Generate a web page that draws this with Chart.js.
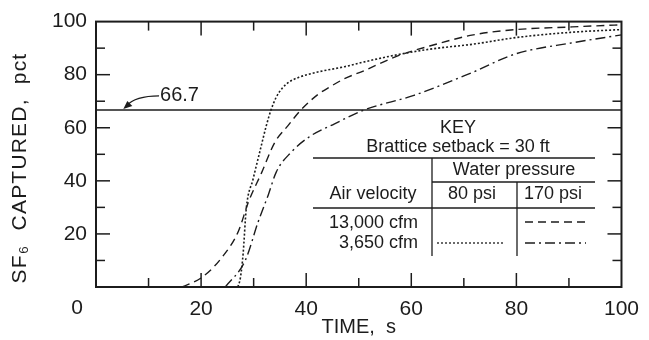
<!DOCTYPE html>
<html>
<head>
<meta charset="utf-8">
<script src="https://cdn.jsdelivr.net/npm/chart.js@4.4.1/dist/chart.umd.min.js"></script>
<style>
  html, body { margin: 0; padding: 0; background: #fff; }
</style>
</head>
<body>
<canvas id="myChart" width="649" height="340"></canvas>
<script>
// 13,000 cfm, 170 psi (dashed)
const fastHighTime = [16.4, 20.2, 23.9, 27.1, 29, 31.5, 34, 36.5, 38.8, 42.2, 44.6, 47.3, 51, 57.3, 63.5, 71.8, 80, 90.6, 100];
const fastHighPct  = [0, 3.7, 11, 21, 32, 43, 54.4, 60.7, 66.3, 72.5, 75.5, 78.5, 81.5, 87, 90.8, 95, 97, 98, 98.8];

// 3,650 cfm, 80 psi (dotted)
const slowLowTime = [27, 27.5, 28, 28.6, 29.9, 31.3, 32.4, 33.3, 34.3, 35.4, 36.8, 38.6, 42.2, 47.3, 51, 57.3, 63.5, 71.8, 80, 90.6, 100];
const slowLowPct  = [0, 3.7, 12.6, 29.6, 40.7, 52, 60.7, 66.7, 71.5, 74.8, 77.3, 79, 81, 83, 84.8, 87.5, 89.6, 91.5, 94, 96, 97];

// 3,650 cfm, 170 psi (dash-dot)
const slowHighTime = [24.6, 28.4, 30.9, 32.8, 34.3, 37.1, 40.9, 45.4, 51, 60.5, 71.8, 79.8, 90.6, 100];
const slowHighPct  = [0, 10, 24.8, 34.8, 43.3, 50.7, 57, 61.5, 66.7, 72.2, 81, 87.8, 92, 95];

const referencePct = 66.7;
const referenceLabel = '66.7';

const keyTitle = 'KEY';
const keySetback = 'Brattice setback = 30 ft';
const keyPressureTitle = 'Water pressure';
const keyPressures = ['80 psi', '170 psi'];
const keyVelocityTitle = 'Air velocity';
const keyVelocities = ['13,000 cfm', '3,650 cfm'];
const yTitle = 'SF\u2086  CAPTURED,  pct';

const ink = '#1c1c1c';
const font = '"Liberation Sans", Arial, sans-serif';

function pts(xs, ys) {
    return xs.map((x, i) => ({ x: x, y: ys[i] }));
}

function line(ctx, x1, y1, x2, y2) {
    ctx.beginPath();
    ctx.moveTo(x1, y1);
    ctx.lineTo(x2, y2);
    ctx.stroke();
}

const dashFast = [8, 5];
const dashDot = [2, 2];
const dashSlowHigh = [10, 4, 2, 4];

const frameAndKey = {
    id: 'frameAndKey',
    afterDraw(chart) {
        const { ctx, chartArea: a, scales: { x, y } } = chart;
        ctx.save();
        ctx.strokeStyle = ink;
        ctx.fillStyle = ink;
        ctx.lineWidth = 2;
        ctx.strokeRect(a.left, a.top, a.right - a.left, a.bottom - a.top);

        // inward ticks on all four sides
        ctx.lineWidth = 1.5;
        for (let v = 10; v < 100; v += 10) {
            const len = v % 20 === 0 ? 14 : 9;
            const px = x.getPixelForValue(v);
            const py = y.getPixelForValue(v);
            line(ctx, px, a.bottom, px, a.bottom - len);
            line(ctx, px, a.top, px, a.top + len);
            line(ctx, a.left, py, a.left + len, py);
            line(ctx, a.right, py, a.right - len, py);
        }

        // lone "0" at the lower left
        ctx.font = '21px ' + font;
        ctx.textAlign = 'center';
        ctx.textBaseline = 'middle';
        ctx.fillText('0', x.getPixelForValue(0) - 19, a.bottom + 21);

        // y axis title, a little below centre as in the original
        ctx.save();
        ctx.translate(20, 168);
        ctx.rotate(-Math.PI / 2);
        ctx.font = '21px ' + font;
        ctx.letterSpacing = '1.2px';
        ctx.fillText(yTitle, 0, 0);
        ctx.restore();

        // 66.7 label with arrow
        const tipX = x.getPixelForValue(5.2), tipY = y.getPixelForValue(referencePct) - 1;
        const labX = x.getPixelForValue(12), labY = y.getPixelForValue(72);
        ctx.font = '20px ' + font;
        ctx.textAlign = 'left';
        ctx.fillText(referenceLabel, labX + 1, labY);
        ctx.lineWidth = 1.2;
        ctx.beginPath();
        ctx.moveTo(labX, labY);
        ctx.quadraticCurveTo(tipX + 12, labY, tipX + 3, tipY - 3);
        ctx.stroke();
        ctx.beginPath();
        ctx.moveTo(tipX, tipY);
        ctx.lineTo(tipX + 9, tipY - 3);
        ctx.lineTo(tipX + 4, tipY - 8);
        ctx.closePath();
        ctx.fill();

        // key table
        ctx.font = '18px ' + font;
        ctx.textAlign = 'center';
        ctx.fillText(keyTitle, 458, 128);
        ctx.fillText(keySetback, 458, 147);
        ctx.fillText(keyPressureTitle, 514, 170);
        ctx.fillText(keyVelocityTitle, 373, 194);
        ctx.fillText(keyPressures[0], 472, 194);
        ctx.fillText(keyPressures[1], 553, 194);
        ctx.textAlign = 'right';
        ctx.fillText(keyVelocities[0], 418, 223);
        ctx.fillText(keyVelocities[1], 418, 243);

        ctx.lineWidth = 1.3;
        line(ctx, 313, 158, 595, 158);
        line(ctx, 432, 182, 595, 182);
        line(ctx, 313, 208, 595, 208);
        line(ctx, 432, 158, 432, 256);
        line(ctx, 517, 182, 517, 256);

        ctx.setLineDash(dashFast);
        line(ctx, 525, 222, 586, 222);
        ctx.setLineDash(dashDot);
        line(ctx, 437, 243, 503, 243);
        ctx.setLineDash(dashSlowHigh);
        line(ctx, 525, 243, 586, 243);
        ctx.restore();
    }
};

const ctx = document.getElementById('myChart');

new Chart(ctx, {
    type: 'scatter',
    data: {
        datasets: [
            {
                label: '66.7',
                data: [{ x: 0, y: referencePct }, { x: 100, y: referencePct }],
                borderColor: ink,
                borderWidth: 1.5
            },
            {
                label: '13,000 cfm, 170 psi',
                data: pts(fastHighTime, fastHighPct),
                borderColor: ink,
                borderWidth: 1.4,
                borderDash: dashFast,
                cubicInterpolationMode: 'monotone'
            },
            {
                label: '3,650 cfm, 80 psi',
                data: pts(slowLowTime, slowLowPct),
                borderColor: ink,
                borderWidth: 1.6,
                borderDash: dashDot,
                cubicInterpolationMode: 'monotone'
            },
            {
                label: '3,650 cfm, 170 psi',
                data: pts(slowHighTime, slowHighPct),
                borderColor: ink,
                borderWidth: 1.4,
                borderDash: dashSlowHigh,
                cubicInterpolationMode: 'monotone'
            }
        ]
    },
    options: {
        responsive: false,
        animation: false,
        showLine: true,
        elements: { point: { radius: 0 } },
        layout: { padding: { left: 0, right: 22, top: 17, bottom: 0 } },
        plugins: {
            legend: { display: false },
            tooltip: { enabled: false }
        },
        scales: {
            x: {
                type: 'linear',
                min: 0,
                max: 100,
                afterFit: (s) => { s.height = 53; },
                grid: { display: false, drawTicks: false },
                border: { display: false },
                ticks: {
                    stepSize: 10,
                    padding: 10,
                    color: ink,
                    font: { size: 21, family: font },
                    maxRotation: 0,
                    autoSkip: false,
                    callback: (v) => (v > 0 && v % 20 === 0) ? String(v) : ''
                },
                title: {
                    display: true,
                    text: 'TIME,  s',
                    color: ink,
                    font: { size: 20, family: font },
                    padding: { top: 0, bottom: 1 }
                }
            },
            y: {
                type: 'linear',
                min: 0,
                max: 100,
                afterFit: (s) => { s.width = 96; },
                grid: { display: false, drawTicks: false },
                border: { display: false },
                ticks: {
                    stepSize: 10,
                    padding: 9,
                    color: ink,
                    font: { size: 21, family: font },
                    autoSkip: false,
                    callback: (v) => (v > 0 && v % 20 === 0) ? String(v) : ''
                },
                title: { display: false }
            }
        }
    },
    plugins: [frameAndKey]
});
</script>
</body>
</html>
